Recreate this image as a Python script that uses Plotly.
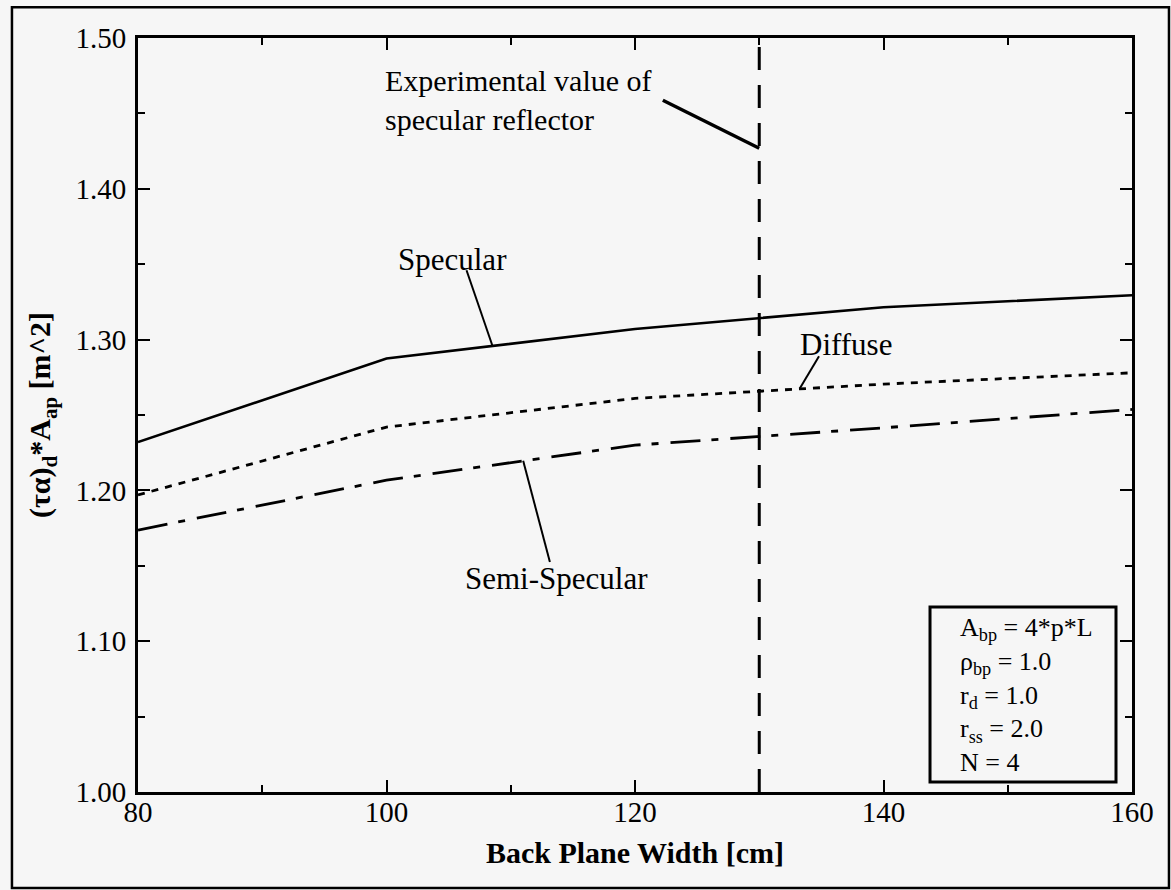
import plotly.graph_objects as go

# ---- data ----
width_cm = [80, 100, 120, 140, 160]
specular = [1.232, 1.2875, 1.307, 1.3215, 1.3294]
diffuse = [1.197, 1.242, 1.261, 1.2705, 1.278]
semi_specular = [1.1737, 1.2068, 1.230, 1.2415, 1.2537]
experimental_x = 130
x_range = [80, 160]
y_range = [1.0, 1.5]
param_lines = ["A<sub>bp</sub> = 4*p*L", "ρ<sub>bp</sub> = 1.0", "r<sub>d</sub> = 1.0",
               "r<sub>ss</sub> = 2.0", "N = 4"]

FONT = "Liberation Serif, Times New Roman, serif"
BG = "#f6f6f6"

fig = go.Figure()
fig.add_trace(go.Scatter(x=width_cm, y=specular, mode="lines", name="Specular",
                         line=dict(color="black", width=2.6)))
fig.add_trace(go.Scatter(x=width_cm, y=diffuse, mode="lines", name="Diffuse",
                         line=dict(color="black", width=2.8, dash="7px,7px")))
fig.add_trace(go.Scatter(x=width_cm, y=semi_specular, mode="lines", name="Semi-Specular",
                         line=dict(color="black", width=2.8, dash="30px,11px,7px,12px")))
fig.add_trace(go.Scatter(x=[experimental_x, experimental_x], y=y_range, mode="lines",
                         name="Experimental", line=dict(color="black", width=3, dash="23px,15px")))

axis_common = dict(showgrid=False, zeroline=False, showline=True, linecolor="black",
                   linewidth=3, mirror="allticks", ticks="inside", ticklen=12,
                   tickwidth=2, tickcolor="black",
                   tickfont=dict(family=FONT, size=29, color="black"))

fig.update_xaxes(range=x_range, dtick=20, tick0=80,
                 minor=dict(ticks="inside", ticklen=7, dtick=10, tickwidth=2, tickcolor="black"),
                 title=dict(text="<b>Back Plane Width [cm]</b>",
                            font=dict(family=FONT, size=30, color="black"), standoff=16),
                 ticklabelstandoff=-8,
                 **axis_common)
fig.update_yaxes(range=y_range, dtick=0.1, tick0=1.0, tickformat=".2f",
                 minor=dict(ticks="inside", ticklen=7, dtick=0.05, tickwidth=2, tickcolor="black"),
                 title=dict(text="<b>(τα)<sub>d</sub>*A<sub>ap</sub> [m^2]</b>",
                            font=dict(family=FONT, size=30, color="black"), standoff=16),
                 ticklabelstandoff=3,
                 **axis_common)

ann_font = dict(family=FONT, size=31, color="black")
annotations = [
    dict(x=99.7, y=1.459, text="Experimental value of<br>specular reflector",
         xanchor="left", yanchor="middle", align="left",
         font=dict(family=FONT, size=30, color="black")),
    dict(x=105.34, y=1.3533, text="Specular", xanchor="center", yanchor="middle"),
    dict(x=137.0, y=1.297, text="Diffuse", xanchor="center", yanchor="middle"),
    dict(x=113.7, y=1.1419, text="Semi-Specular", xanchor="center", yanchor="middle"),
]
for a in annotations:
    a.setdefault("font", ann_font)
    a.update(xref="x", yref="y", showarrow=False)

# parameter box text (one multi-line block)
annotations.append(dict(x=0.825, y=0.129, xref="paper", yref="paper",
                        text="<br>".join(param_lines), align="left",
                        xanchor="left", yanchor="middle", showarrow=False,
                        font=dict(family=FONT, size=26, color="black")))

shapes = [
    # pointer lines
    dict(type="line", xref="x", yref="y", x0=122.24, y0=1.4587, x1=130, y1=1.4269,
         line=dict(color="black", width=3.5)),
    dict(type="line", xref="x", yref="y", x0=106.44, y0=1.346, x1=108.54, y1=1.2956,
         line=dict(color="black", width=2)),
    dict(type="line", xref="x", yref="y", x0=134.81, y0=1.289, x1=133.26, y1=1.2676,
         line=dict(color="black", width=2)),
    dict(type="line", xref="x", yref="y", x0=111.0, y0=1.2196, x1=113.15, y1=1.1525,
         line=dict(color="black", width=2)),
    # parameter box
    dict(type="rect", xref="paper", yref="paper", x0=0.7968, x1=0.9839, y0=0.0133, y1=0.2453,
         line=dict(color="black", width=3)),
    # outer frame
    dict(type="rect", xref="paper", yref="paper", x0=-0.1268, x1=1.0372, y0=-0.1273, y1=1.0407,
         line=dict(color="black", width=2.5)),
]

fig.update_layout(width=1171, height=890, margin=dict(l=138, r=39, t=38, b=98),
                  paper_bgcolor=BG, plot_bgcolor=BG, showlegend=False,
                  annotations=annotations, shapes=shapes)

fig.write_html("out.html")
